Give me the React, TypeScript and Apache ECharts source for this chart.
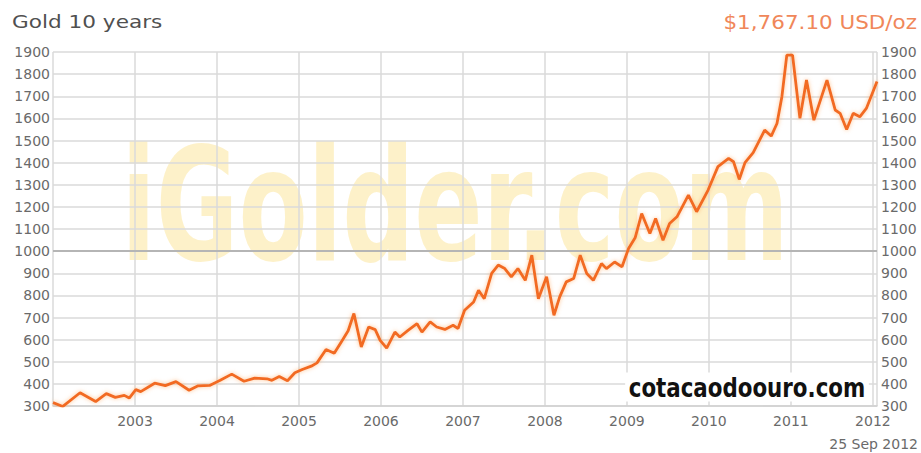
import React, { useEffect, useRef } from "react";
import * as echarts from "echarts";

// Decimal-year positions, with gold price (USD/oz)
const dates: number[] = [
  2002.0, 2002.12, 2002.33, 2002.52, 2002.65, 2002.76, 2002.87, 2002.93, 2003.01, 2003.07,
  2003.24, 2003.37, 2003.5, 2003.66, 2003.77, 2003.91, 2004.04, 2004.18, 2004.33, 2004.46,
  2004.61, 2004.67, 2004.76, 2004.86, 2004.95, 2005.04, 2005.15, 2005.22, 2005.33, 2005.43,
  2005.52, 2005.6, 2005.67, 2005.76, 2005.85, 2005.93, 2005.99, 2006.07, 2006.17, 2006.23,
  2006.33, 2006.44, 2006.5, 2006.6, 2006.68, 2006.78, 2006.88, 2006.94, 2007.02, 2007.13,
  2007.19, 2007.26, 2007.35, 2007.43, 2007.51, 2007.59, 2007.67, 2007.76, 2007.84, 2007.92,
  2008.02, 2008.11, 2008.18, 2008.26, 2008.35, 2008.43, 2008.51, 2008.59, 2008.69, 2008.75,
  2008.85, 2008.94, 2009.02, 2009.1, 2009.18, 2009.28, 2009.35, 2009.44, 2009.52, 2009.61,
  2009.75, 2009.85, 2009.99, 2010.11, 2010.24, 2010.3, 2010.37, 2010.44, 2010.54, 2010.68,
  2010.76, 2010.83, 2010.89, 2010.95, 2011.02, 2011.11, 2011.19, 2011.28, 2011.44, 2011.54,
  2011.6, 2011.68, 2011.76, 2011.84, 2011.92, 2012.05,
];
const prices: number[] = [
  315, 298, 360, 320, 356, 339, 348, 336, 374, 365,
  403, 392, 410, 371, 391, 393, 416, 444, 412, 426,
  423, 416, 433, 414, 450, 465, 480, 495, 555, 538,
  592, 640, 718, 567, 657, 645, 597, 562, 634, 612,
  642, 672, 634, 680, 657, 646, 665, 650, 733, 770,
  823, 785, 899, 937, 921, 884, 921, 868, 982, 785,
  884, 710, 793, 861, 876, 982, 899, 868, 944, 921,
  951, 929, 1012, 1060, 1170, 1080, 1148, 1049, 1125, 1155,
  1253, 1178, 1276, 1382, 1419, 1404, 1324, 1400, 1445, 1547,
  1520, 1577, 1698, 1886, 1886, 1600, 1773, 1592, 1773, 1638,
  1623, 1550, 1623, 1607, 1645, 1767,
];
const yearLabels: number[] = [2003, 2004, 2005, 2006, 2007, 2008, 2009, 2010, 2011, 2012];
const titleText = "Gold 10 years";
const priceText = "$1,767.10 USD/oz";
const dateText = "25 Sep 2012";
const watermarkText = "iGolder.com";
const sourceText = "cotacaodoouro.com";

export default function App() {
  const ref = useRef<HTMLDivElement>(null);
  useEffect(() => {
    if (!ref.current) return;
    const chart = echarts.init(ref.current, null, { renderer: "svg" });
    const labelStyle = { color: "#6a6a6a", fontSize: 14, fontFamily: "DejaVu Sans" };
    const yAxisCommon = {
      type: "value",
      min: 300,
      max: 1900,
      interval: 100,
      axisLine: { show: false },
      axisTick: { show: false },
    };
    chart.setOption({
      animation: false,
      backgroundColor: "#ffffff",
      grid: { left: 53, right: 44, top: 52, bottom: 47 },
      xAxis: {
        type: "value",
        min: 2002,
        max: 2012.05,
        interval: 1,
        axisLine: { show: true, lineStyle: { color: "#d0d0d0", width: 1.5 } },
        axisTick: { show: false },
        splitLine: { show: true, lineStyle: { color: "#dadada", width: 1.5 } },
        axisLabel: {
          ...labelStyle,
          margin: 8,
          formatter: (v: number) => (yearLabels.includes(Math.round(v * 100) / 100) ? String(v) : ""),
        },
      },
      yAxis: [
        {
          ...yAxisCommon,
          position: "left",
          axisLabel: { ...labelStyle, margin: 3, formatter: (v: number) => String(v) },
          splitLine: { show: true, lineStyle: { color: "#dadada", width: 1.5 } },
        },
        {
          ...yAxisCommon,
          position: "right",
          axisLabel: { ...labelStyle, margin: 4, formatter: (v: number) => String(v) },
          splitLine: { show: false },
        },
      ],
      graphic: [
        {
          type: "text",
          z: -10,
          x: 455,
          y: 206,
          scaleX: 0.7,
          scaleY: 0.98,
          silent: true,
          style: {
            text: watermarkText,
            fill: "rgba(250, 215, 100, 0.35)",
            fontSize: 160,
            fontWeight: "bold",
            fontFamily: "DejaVu Sans Condensed",
            textAlign: "center",
            textVerticalAlign: "middle",
          },
        },
        {
          type: "text",
          x: 12,
          y: 22,
          scaleX: 1.2,
          style: {
            text: titleText,
            fill: "#505050",
            fontSize: 18,
            fontFamily: "DejaVu Sans",
            textAlign: "left",
            textVerticalAlign: "middle",
          },
        },
        {
          type: "text",
          x: 917,
          y: 22,
          scaleX: 1.13,
          style: {
            text: priceText,
            fill: "#f0875a",
            fontSize: 19,
            fontFamily: "DejaVu Sans",
            textAlign: "right",
            textVerticalAlign: "middle",
          },
        },
        {
          type: "text",
          x: 918,
          y: 444,
          style: {
            text: dateText,
            fill: "#6a6a6a",
            fontSize: 14,
            fontFamily: "DejaVu Sans",
            textAlign: "right",
            textVerticalAlign: "middle",
          },
        },
        {
          type: "text",
          x: 747,
          y: 387,
          z: 10,
          scaleX: 0.88,
          style: {
            text: sourceText,
            fill: "#111111",
            fontSize: 27,
            fontWeight: "bold",
            fontFamily: "DejaVu Sans Condensed",
            textAlign: "center",
            textVerticalAlign: "middle",
            backgroundColor: "#ffffff",
            padding: [1, 4],
          },
        },
      ],
      series: [
        {
          type: "line",
          data: dates.map((d, i) => [d, prices[i]]),
          showSymbol: false,
          symbol: "none",
          lineStyle: {
            color: "#f26a21",
            width: 2.8,
            shadowColor: "rgba(255,170,100,0.7)",
            shadowBlur: 4,
          },
          markLine: {
            silent: true,
            symbol: "none",
            label: { show: false },
            lineStyle: { color: "#b5b5b5", width: 2, type: "solid" },
            data: [{ yAxis: 1000 }],
            z: 1,
          },
        },
      ],
    });
    return () => chart.dispose();
  }, []);
  return (
    <div
      ref={ref}
      style={{ position: "fixed", left: 0, top: 0, width: 921, height: 453 }}
    />
  );
}
